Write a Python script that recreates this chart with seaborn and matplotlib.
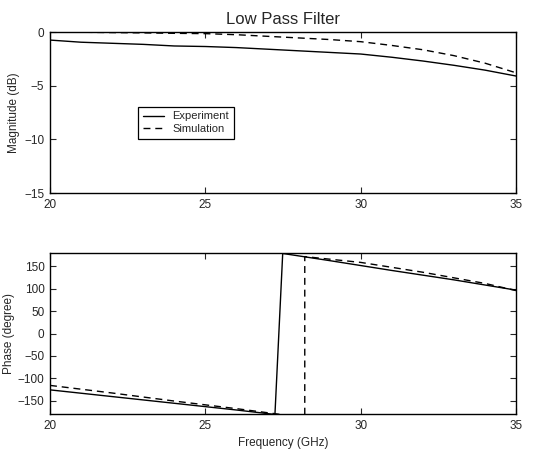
import pandas as pd
import matplotlib
matplotlib.use('Agg')
import matplotlib.pyplot as plt
import seaborn as sns

# Magnitude data (dB)
freq_mag = [20, 21, 22, 23, 24, 25, 26, 27, 28, 29, 30, 31, 32, 33, 34, 35]
exp_mag = [-0.75, -0.95, -1.05, -1.15, -1.3, -1.35, -1.45, -1.6, -1.75, -1.9, -2.05, -2.35, -2.7, -3.1, -3.55, -4.1]
sim_mag = [0.0, -0.02, -0.05, -0.08, -0.12, -0.15, -0.25, -0.4, -0.55, -0.7, -0.9, -1.25, -1.65, -2.2, -2.9, -3.8]

# Phase data (degree), wrapped at +/-180
freq_exp_ph = [20, 22, 24, 26, 27.24, 27.49, 29, 31, 33, 35]
exp_ph = [-126, -141, -156, -171, -181, 179, 163, 141, 120, 97]
freq_sim_ph = [20, 22, 24, 26, 28.2, 28.2, 30, 32, 34, 35]
sim_ph = [-116, -133, -151, -168, -188, 172, 159, 137, 112, 96]

sns.set_style('ticks')
plt.rcParams['font.family'] = ['Liberation Sans', 'DejaVu Sans']

fig = plt.figure(figsize=(5.47, 4.51), dpi=100)
ax1 = fig.add_axes([0.0914, 0.572, 0.852, 0.357])
ax2 = fig.add_axes([0.0914, 0.082, 0.852, 0.357])

dash = (5, 3.5)
mag = pd.DataFrame({'f': freq_mag, 'exp': exp_mag, 'sim': sim_mag})
sns.lineplot(x='f', y='exp', data=mag, ax=ax1, color='black', lw=1.0, label='Experiment')
sns.lineplot(x='f', y='sim', data=mag, ax=ax1, color='black', lw=1.0, dashes=dash, label='Simulation')

ph_exp = pd.DataFrame({'f': freq_exp_ph, 'p': exp_ph})
ph_sim = pd.DataFrame({'f': freq_sim_ph, 'p': sim_ph})
sns.lineplot(x='f', y='p', data=ph_exp, ax=ax2, color='black', lw=1.0, sort=False, estimator=None)
sns.lineplot(x='f', y='p', data=ph_sim, ax=ax2, color='black', lw=1.0, dashes=dash, sort=False, estimator=None)

ax1.set_xlim(20, 35)
ax1.set_ylim(-15, 0)
ax1.set_yticks([0, -5, -10, -15])
ax1.set_xticks([20, 25, 30, 35])
ax1.set_xlabel('')
ax1.set_ylabel('Magnitude (dB)', fontsize=8.5, labelpad=3)
ax1.set_title('Low Pass Filter', fontsize=12, pad=6)

ax2.set_xlim(20, 35)
ax2.set_ylim(-180, 180)
ax2.set_yticks([-150, -100, -50, 0, 50, 100, 150])
ax2.set_xticks([20, 25, 30, 35])
ax2.set_xlabel('Frequency (GHz)', fontsize=8.5)
ax2.set_ylabel('Phase (degree)', fontsize=8.5, labelpad=2)

for ax in (ax1, ax2):
    ax.tick_params(direction='in', top=True, right=True, length=4, labelsize=8.5, pad=4)
    for s in ax.spines.values():
        s.set_visible(True)
        s.set_linewidth(1.0)
        s.set_color('black')

leg = ax1.legend(loc='upper left', bbox_to_anchor=(0.189, 0.534), borderaxespad=0,
                 fontsize=8, frameon=True, fancybox=False, edgecolor='black', framealpha=1,
                 handlelength=1.9, handletextpad=0.8, borderpad=0.4, labelspacing=0.25)
leg.get_frame().set_linewidth(0.9)

fig.savefig('out.png', dpi=100)
